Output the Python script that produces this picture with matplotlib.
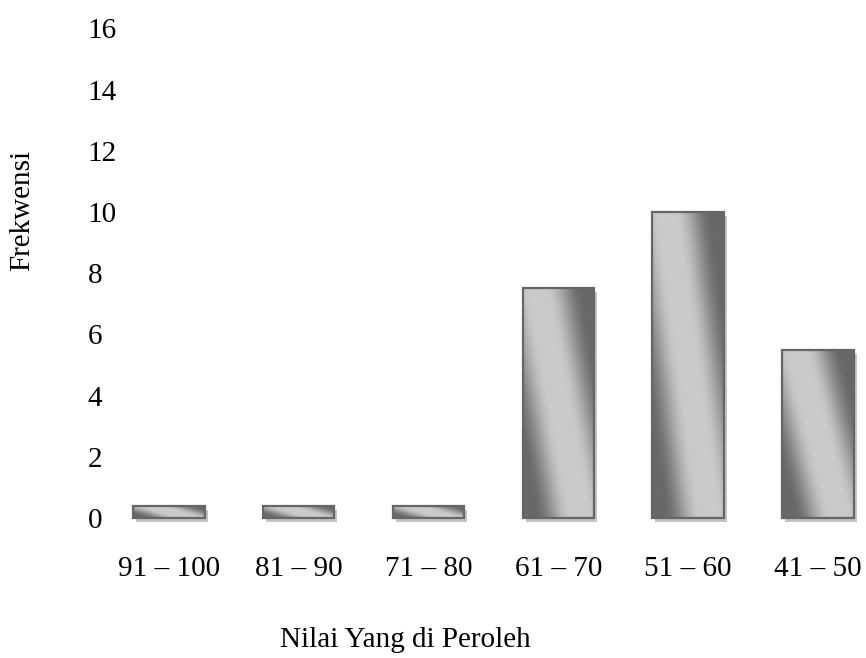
import numpy as np
import matplotlib
matplotlib.use("Agg")
import matplotlib.pyplot as plt
import matplotlib.transforms as mtransforms
from matplotlib.patches import Rectangle

# Frequency of scores per grade interval
categories = ["91 \u2013 100", "81 \u2013 90", "71 \u2013 80", "61 \u2013 70", "51 \u2013 60", "41 \u2013 50"]
frequencies = [0, 0, 0, 7.5, 10, 5.5]
y_ticks = [0, 2, 4, 6, 8, 10, 12, 14, 16]

plt.rcParams["font.family"] = ["Liberation Serif", "DejaVu Serif"]
FS = 21

fig = plt.figure(figsize=(8.66, 6.58), dpi=100)
ax = fig.add_axes([0.1443, 0.19453, 0.85570, 0.79027])

x = np.arange(len(categories))
# empty classes are still drawn as a thin slab
min_visible = 0.4
heights = np.maximum(np.asarray(frequencies, dtype=float), min_visible)
bar_w = 0.55

bars = ax.bar(x, heights, width=bar_w, facecolor="none",
              edgecolor="#666666", linewidth=1.6, zorder=3)

shadow_tf = ax.transData + mtransforms.ScaledTranslation(3 / 100, -4 / 100, fig.dpi_scale_trans)

# diagonal metallic gradient: soft light band running from upper-left to lower-right
ny, nx = 200, 120
xn = np.linspace(0, 1, nx)[None, :]
yn = np.linspace(1, 0, ny)[:, None]  # image row 0 is the top
centre = 0.8 - 0.6 * yn
t = np.clip((np.abs(xn - centre) - 0.12) / 0.5, 0, 1)
t = t * t * (3 - 2 * t)
light, dark = 0.79, 0.41
grad = light + (dark - light) * t

for p in bars.patches:
    x0, y0 = p.get_x(), p.get_y()
    w, h = p.get_width(), p.get_height()
    ax.add_patch(Rectangle((x0, y0), w, h, transform=shadow_tf,
                           facecolor="#c4c4c4", edgecolor="none", zorder=1))
    im = ax.imshow(grad, cmap="gray", vmin=0, vmax=1, extent=(x0, x0 + w, y0, y0 + h),
                   aspect="auto", interpolation="bilinear", zorder=2)
    clip = Rectangle((x0, y0), w, h, transform=ax.transData)
    im.set_clip_path(clip)

ax.set_xlim(-0.339, 5.37)
ax.set_ylim(-0.392, 16.6)

ax.set_xticks(x)
ax.set_xticklabels(categories, fontsize=FS)
ax.set_yticks(y_ticks)
ax.set_yticklabels([str(v) for v in y_ticks], fontsize=FS, ha="left")
ax.tick_params(axis="y", length=0, pad=27)
ax.tick_params(axis="x", length=0, pad=19)

for s in ax.spines.values():
    s.set_visible(False)

fig.text(405 / 866, 1 - 640 / 658, "Nilai Yang di Peroleh", fontsize=FS,
         ha="center", va="center")
fig.text(22 / 866, 1 - 210 / 658, "Frekwensi", fontsize=FS, rotation=90,
         ha="center", va="center")

fig.savefig("out.png", dpi=100)
